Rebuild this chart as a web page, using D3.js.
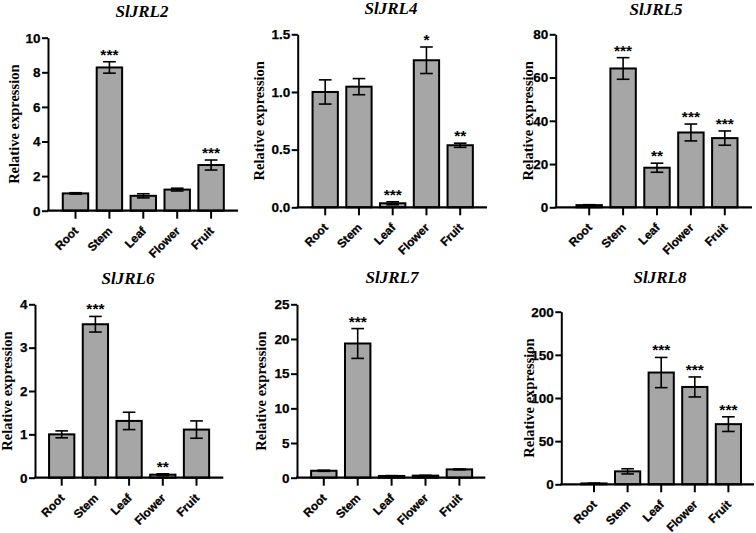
<!DOCTYPE html>
<html>
<head>
<meta charset="utf-8">
<script src="https://cdn.jsdelivr.net/npm/d3@7"></script>
<style>
  html, body { margin: 0; padding: 0; background: #fff; }
  svg { display: block; }
</style>
</head>
<body>
<svg id="chart" width="756" height="533"></svg>
<script>
// ---------------- DATA ----------------
const categories = ["Root", "Stem", "Leaf", "Flower", "Fruit"];

const genes = ["SlJRL2", "SlJRL4", "SlJRL5", "SlJRL6", "SlJRL7", "SlJRL8"];

const values_SlJRL2 = [1.0, 8.28, 0.86, 1.22, 2.64];
const errors_SlJRL2 = [0.04, 0.33, 0.12, 0.08, 0.29];
const stars_SlJRL2  = ["", "***", "", "", "***"];

const values_SlJRL4 = [1.0, 1.046, 0.035, 1.275, 0.538];
const errors_SlJRL4 = [0.105, 0.07, 0.013, 0.115, 0.018];
const stars_SlJRL4  = ["", "", "***", "*", "**"];

const values_SlJRL5 = [1.0, 64.2, 18.3, 34.6, 32.0];
const errors_SlJRL5 = [0.2, 5.0, 2.1, 3.9, 3.3];
const stars_SlJRL5  = ["", "***", "**", "***", "***"];

const values_SlJRL6 = [1.0, 3.54, 1.31, 0.07, 1.11];
const errors_SlJRL6 = [0.08, 0.18, 0.2, 0.02, 0.2];
const stars_SlJRL6  = ["", "***", "", "**", ""];

const values_SlJRL7 = [1.0, 19.35, 0.25, 0.3, 1.2];
const errors_SlJRL7 = [0.08, 2.15, 0.05, 0.04, 0.06];
const stars_SlJRL7  = ["", "***", "", "", ""];

const values_SlJRL8 = [1.0, 15.0, 129.5, 112.8, 69.7];
const errors_SlJRL8 = [0.3, 3.0, 17.5, 11.6, 8.5];
const stars_SlJRL8  = ["", "", "***", "***", "***"];

const yDomains = [[0, 10], [0, 1.5], [0, 80], [0, 4], [0, 25], [0, 200]];
const yTicks = [
  [0, 2, 4, 6, 8, 10],
  [0, 0.5, 1.0, 1.5],
  [0, 20, 40, 60, 80],
  [0, 1, 2, 3, 4],
  [0, 5, 10, 15, 20, 25],
  [0, 50, 100, 150, 200]
];
const yTickFormats = ["d", ".1f", "d", "d", "d", "d"];
const yLabel = "Relative expression";

const seriesValues = [values_SlJRL2, values_SlJRL4, values_SlJRL5, values_SlJRL6, values_SlJRL7, values_SlJRL8];
const seriesErrors = [errors_SlJRL2, errors_SlJRL4, errors_SlJRL5, errors_SlJRL6, errors_SlJRL7, errors_SlJRL8];
const seriesStars  = [stars_SlJRL2, stars_SlJRL4, stars_SlJRL5, stars_SlJRL6, stars_SlJRL7, stars_SlJRL8];

// ---------------- LAYOUT ----------------
const layout = [
  {axisX: 48,    top: 37.7,  bottom: 210.7, first: 75.5,  step: 33.9,  axisEnd: 238,   titleX: 142, titleY: 17,  labelX: 13.5},
  {axisX: 297.7, top: 34.3,  bottom: 207.3, first: 325.2, step: 33.75, axisEnd: 487,   titleX: 391, titleY: 14,  labelX: 259},
  {axisX: 555.7, top: 34.3,  bottom: 207.3, first: 589.2, step: 33.9,  axisEnd: 752,   titleX: 656, titleY: 15,  labelX: 527.5},
  {axisX: 35,    top: 304.3, bottom: 477.7, first: 61.7,  step: 33.7,  axisEnd: 223.3, titleX: 128, titleY: 284, labelX: 7},
  {axisX: 297,   top: 304.3, bottom: 477.7, first: 323.8, step: 33.9,  axisEnd: 485.3, titleX: 392, titleY: 282.5, labelX: 260.5},
  {axisX: 561.3, top: 311.7, bottom: 484.3, first: 594,   step: 33.6,  axisEnd: 754,   titleX: 660, titleY: 282.5, labelX: 529}
];

const BAR_FILL = "#a6a6a6";
const SANS = "Liberation Sans, Arial, Helvetica, sans-serif";
const SERIF = "Liberation Serif, Times New Roman, Times, serif";

const svg = d3.select("#chart");

genes.forEach((gene, i) => {
  const L = layout[i];
  const vals = seriesValues[i], errs = seriesErrors[i], stars = seriesStars[i];
  const g = svg.append("g");

  const x = d3.scaleBand()
    .domain(categories)
    .range([L.first - L.step / 2, L.first + 4.5 * L.step])
    .paddingInner(0.25)
    .paddingOuter(0.125);
  const cx = d => x(d) + x.bandwidth() / 2;

  const y = d3.scaleLinear().domain(yDomains[i]).range([L.bottom, L.top]);

  // Bars
  g.selectAll("rect.bar")
    .data(categories)
    .join("rect")
    .attr("class", "bar")
    .attr("x", d => x(d))
    .attr("width", x.bandwidth())
    .attr("y", (d, j) => y(vals[j]))
    .attr("height", (d, j) => y(0) - y(vals[j]))
    .attr("fill", BAR_FILL)
    .attr("stroke", "#000")
    .attr("stroke-width", 2);

  // Error bars
  const capW = x.bandwidth() * 0.5;
  const eg = g.selectAll("g.err").data(categories).join("g").attr("class", "err")
    .attr("stroke", "#000").attr("stroke-width", 1.6).attr("fill", "none");
  eg.append("line")
    .attr("x1", cx).attr("x2", cx)
    .attr("y1", (d, j) => y(vals[j] + errs[j]))
    .attr("y2", (d, j) => y(Math.max(0, vals[j] - errs[j])));
  eg.append("line")
    .attr("x1", d => cx(d) - capW / 2)
    .attr("x2", d => cx(d) + capW / 2)
    .attr("y1", (d, j) => y(vals[j] + errs[j]))
    .attr("y2", (d, j) => y(vals[j] + errs[j]));
  eg.append("line")
    .attr("x1", d => cx(d) - capW / 2)
    .attr("x2", d => cx(d) + capW / 2)
    .attr("y1", (d, j) => y(Math.max(0, vals[j] - errs[j])))
    .attr("y2", (d, j) => y(Math.max(0, vals[j] - errs[j])));

  // Significance stars
  g.selectAll("text.star")
    .data(categories)
    .join("text")
    .attr("class", "star")
    .attr("x", cx)
    .attr("y", (d, j) => y(vals[j] + errs[j]) - 2)
    .attr("text-anchor", "middle")
    .attr("font-family", SANS)
    .attr("font-weight", "bold")
    .attr("font-size", 15.5)
    .attr("fill", "#000")
    .text((d, j) => stars[j]);

  // Y axis
  const yAxis = d3.axisLeft(y)
    .tickValues(yTicks[i])
    .tickFormat(d3.format(yTickFormats[i]))
    .tickSizeInner(6)
    .tickSizeOuter(0)
    .tickPadding(1.5);
  const ya = g.append("g").attr("transform", `translate(${L.axisX},0)`).call(yAxis);
  ya.select(".domain").attr("stroke", "#000").attr("stroke-width", 2);
  ya.selectAll(".tick line").attr("stroke", "#000").attr("stroke-width", 2);
  ya.selectAll(".tick text")
    .attr("font-family", SANS).attr("font-weight", "bold").attr("font-size", 13.5).attr("fill", "#000")
    .attr("stroke", "#000").attr("stroke-width", 0.25);

  // X axis (ticks via d3 axis, labels drawn explicitly)
  const xAxis = d3.axisBottom(x).tickSizeInner(8).tickSizeOuter(0).tickFormat("");
  const xa = g.append("g").attr("transform", `translate(0,${L.bottom})`).call(xAxis);
  xa.select(".domain").remove();
  xa.selectAll(".tick text").remove();
  xa.append("line")
    .attr("x1", L.axisX - 1).attr("x2", L.axisEnd)
    .attr("y1", 0).attr("y2", 0)
    .attr("stroke", "#000").attr("stroke-width", 2.2);
  xa.selectAll(".tick line").attr("stroke", "#000").attr("stroke-width", 2);

  g.selectAll("text.xlab")
    .data(categories)
    .join("text")
    .attr("class", "xlab")
    .attr("x", 0).attr("y", 0)
    .attr("transform", d => `translate(${cx(d) + 3.5},${L.bottom + 21}) rotate(-45)`)
    .attr("text-anchor", "end")
    .attr("font-family", SANS).attr("font-weight", "bold").attr("font-size", 11.8)
    .attr("fill", "#000").attr("stroke", "#000").attr("stroke-width", 0.3)
    .text(d => d);

  // Title
  g.append("text")
    .attr("x", L.titleX).attr("y", L.titleY)
    .attr("text-anchor", "middle")
    .attr("font-family", SERIF).attr("font-weight", "bold").attr("font-style", "italic")
    .attr("font-size", 17).attr("fill", "#000")
    .text(gene);

  // Y label
  const cyy = (L.top + L.bottom) / 2;
  g.append("text")
    .attr("transform", `translate(${L.labelX + 5},${cyy}) rotate(-90)`)
    .attr("text-anchor", "middle")
    .attr("font-family", SERIF).attr("font-weight", "bold")
    .attr("font-size", 14.5).attr("fill", "#000")
    .text(yLabel);
});
</script>
</body>
</html>
